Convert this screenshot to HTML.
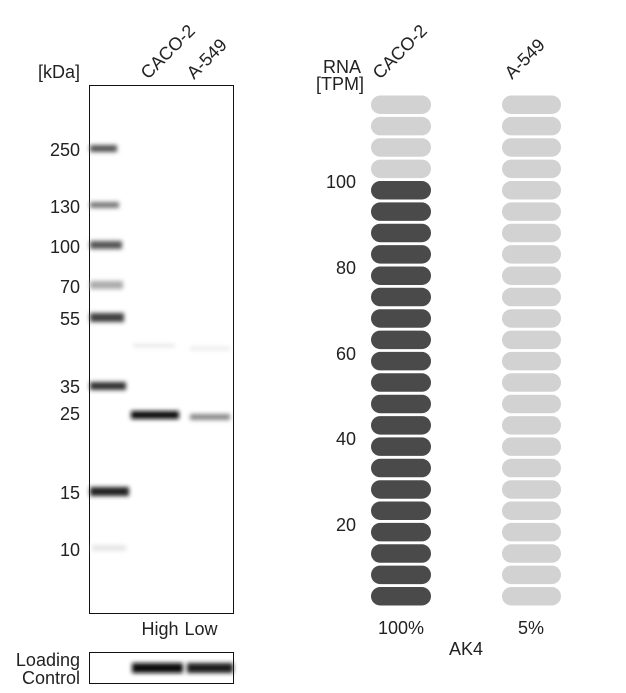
<!DOCTYPE html>
<html><head><style>
body{margin:0;background:#fff;}
svg text{font-family:"Liberation Sans",Arial,sans-serif;fill:#222;}
</style></head><body>
<svg width="626" height="688" viewBox="0 0 626 688" xmlns="http://www.w3.org/2000/svg">
<defs>
<filter id="b" x="-20%" y="-200%" width="140%" height="500%"><feGaussianBlur stdDeviation="2"/></filter>
</defs>
<text x="80" y="78" font-size="18" text-anchor="end">[kDa]</text>
<text transform="translate(148,80) rotate(-45)" font-size="18">CACO-2</text>
<text transform="translate(194,80) rotate(-45)" font-size="18">A-549</text>
<rect x="89.5" y="85.5" width="144" height="528" fill="#fff" stroke="#111" stroke-width="1"/>
<g filter="url(#b)">
<rect x="90" y="145" width="27" height="7" fill="#555"/>
<rect x="90" y="202" width="29" height="6" fill="#777"/>
<rect x="90" y="241" width="32" height="8" fill="#555"/>
<rect x="90" y="281" width="33" height="8" fill="#aaa"/>
<rect x="90" y="313" width="34" height="9" fill="#3f3f3f"/>
<rect x="90" y="382" width="36" height="8" fill="#333"/>
<rect x="90" y="487" width="39" height="9" fill="#222"/>
<rect x="92" y="545" width="34" height="6" fill="#e6e6e6"/>
<rect x="131" y="411" width="48" height="8" fill="#111"/>
<rect x="190" y="414" width="40" height="6" fill="#888"/>
<rect x="133" y="344" width="42" height="3" fill="#e4e4e4"/>
<rect x="190" y="347" width="40" height="3" fill="#e6e6e6"/>
</g>
<g font-size="18" text-anchor="end">
<text x="80" y="156">250</text>
<text x="80" y="213">130</text>
<text x="80" y="253">100</text>
<text x="80" y="293">70</text>
<text x="80" y="325">55</text>
<text x="80" y="393">35</text>
<text x="80" y="420">25</text>
<text x="80" y="499">15</text>
<text x="80" y="556">10</text>
</g>
<text x="160" y="635" font-size="18" text-anchor="middle">High</text>
<text x="201" y="635" font-size="18" text-anchor="middle">Low</text>
<text x="80" y="666" font-size="18" text-anchor="end">Loading</text>
<text x="80" y="684" font-size="18" text-anchor="end">Control</text>
<rect x="89.5" y="652.5" width="144" height="31" fill="#fff" stroke="#111" stroke-width="1"/>
<g filter="url(#b)">
<rect x="132" y="663" width="51" height="10" fill="#111"/>
<rect x="187" y="663" width="46" height="10" fill="#1a1a1a"/>
</g>
<text x="342" y="73" font-size="18" text-anchor="middle">RNA</text>
<text x="340" y="90" font-size="18" text-anchor="middle">[TPM]</text>
<text transform="translate(380,80) rotate(-45)" font-size="18">CACO-2</text>
<text transform="translate(512,80) rotate(-45)" font-size="18">A-549</text>
<g fill="#d2d2d2">
<rect x="371" y="95.5" width="60" height="18.5" rx="9.2"/>
<rect x="371" y="116.9" width="60" height="18.5" rx="9.2"/>
<rect x="371" y="138.2" width="60" height="18.5" rx="9.2"/>
<rect x="371" y="159.6" width="60" height="18.5" rx="9.2"/>
<rect x="502" y="95.5" width="59" height="18.5" rx="9.2"/>
<rect x="502" y="116.9" width="59" height="18.5" rx="9.2"/>
<rect x="502" y="138.2" width="59" height="18.5" rx="9.2"/>
<rect x="502" y="159.6" width="59" height="18.5" rx="9.2"/>
<rect x="502" y="181.0" width="59" height="18.5" rx="9.2"/>
<rect x="502" y="202.4" width="59" height="18.5" rx="9.2"/>
<rect x="502" y="223.7" width="59" height="18.5" rx="9.2"/>
<rect x="502" y="245.1" width="59" height="18.5" rx="9.2"/>
<rect x="502" y="266.5" width="59" height="18.5" rx="9.2"/>
<rect x="502" y="287.8" width="59" height="18.5" rx="9.2"/>
<rect x="502" y="309.2" width="59" height="18.5" rx="9.2"/>
<rect x="502" y="330.6" width="59" height="18.5" rx="9.2"/>
<rect x="502" y="351.9" width="59" height="18.5" rx="9.2"/>
<rect x="502" y="373.3" width="59" height="18.5" rx="9.2"/>
<rect x="502" y="394.7" width="59" height="18.5" rx="9.2"/>
<rect x="502" y="416.1" width="59" height="18.5" rx="9.2"/>
<rect x="502" y="437.4" width="59" height="18.5" rx="9.2"/>
<rect x="502" y="458.8" width="59" height="18.5" rx="9.2"/>
<rect x="502" y="480.2" width="59" height="18.5" rx="9.2"/>
<rect x="502" y="501.5" width="59" height="18.5" rx="9.2"/>
<rect x="502" y="522.9" width="59" height="18.5" rx="9.2"/>
<rect x="502" y="544.3" width="59" height="18.5" rx="9.2"/>
<rect x="502" y="565.6" width="59" height="18.5" rx="9.2"/>
<rect x="502" y="587.0" width="59" height="18.5" rx="9.2"/>
</g>
<g fill="#4a4a4a">
<rect x="371" y="181.0" width="60" height="18.5" rx="9.2"/>
<rect x="371" y="202.4" width="60" height="18.5" rx="9.2"/>
<rect x="371" y="223.7" width="60" height="18.5" rx="9.2"/>
<rect x="371" y="245.1" width="60" height="18.5" rx="9.2"/>
<rect x="371" y="266.5" width="60" height="18.5" rx="9.2"/>
<rect x="371" y="287.8" width="60" height="18.5" rx="9.2"/>
<rect x="371" y="309.2" width="60" height="18.5" rx="9.2"/>
<rect x="371" y="330.6" width="60" height="18.5" rx="9.2"/>
<rect x="371" y="351.9" width="60" height="18.5" rx="9.2"/>
<rect x="371" y="373.3" width="60" height="18.5" rx="9.2"/>
<rect x="371" y="394.7" width="60" height="18.5" rx="9.2"/>
<rect x="371" y="416.1" width="60" height="18.5" rx="9.2"/>
<rect x="371" y="437.4" width="60" height="18.5" rx="9.2"/>
<rect x="371" y="458.8" width="60" height="18.5" rx="9.2"/>
<rect x="371" y="480.2" width="60" height="18.5" rx="9.2"/>
<rect x="371" y="501.5" width="60" height="18.5" rx="9.2"/>
<rect x="371" y="522.9" width="60" height="18.5" rx="9.2"/>
<rect x="371" y="544.3" width="60" height="18.5" rx="9.2"/>
<rect x="371" y="565.6" width="60" height="18.5" rx="9.2"/>
<rect x="371" y="587.0" width="60" height="18.5" rx="9.2"/>
</g>
<g font-size="18" text-anchor="end">
<text x="356" y="188">100</text>
<text x="356" y="274">80</text>
<text x="356" y="360">60</text>
<text x="356" y="445">40</text>
<text x="356" y="531">20</text>
</g>
<text x="401" y="634" font-size="18" text-anchor="middle">100%</text>
<text x="531" y="634" font-size="18" text-anchor="middle">5%</text>
<text x="466" y="655" font-size="18" text-anchor="middle">AK4</text>
</svg>
</body></html>
